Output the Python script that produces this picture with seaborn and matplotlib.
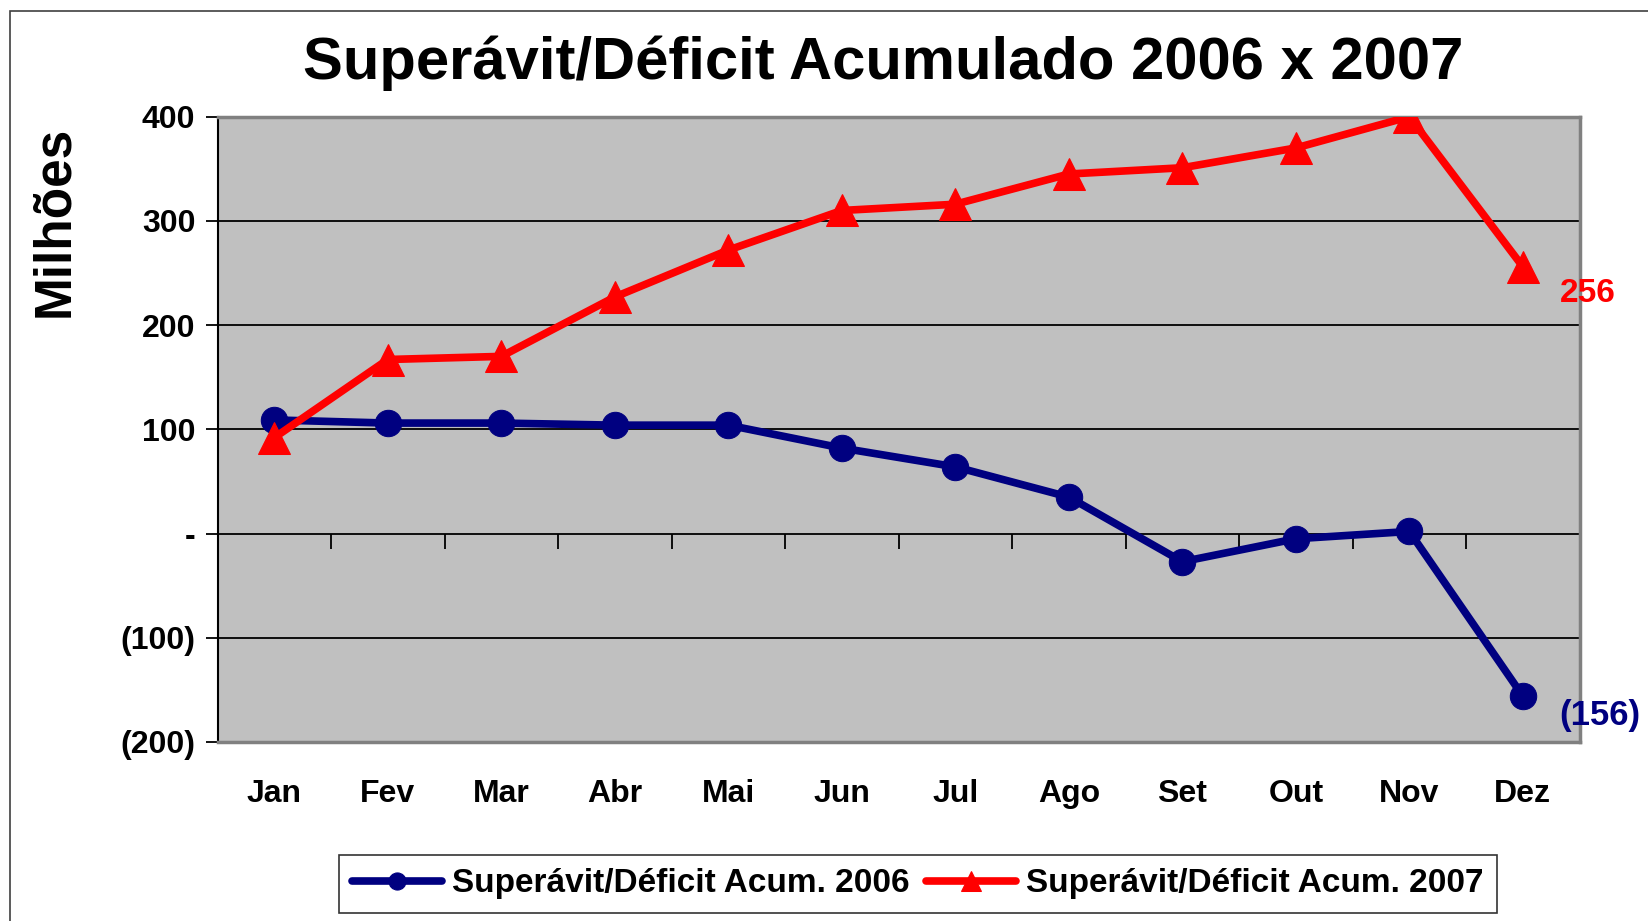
import numpy as np
import pandas as pd
import matplotlib
matplotlib.use("Agg")
import matplotlib.pyplot as plt
import seaborn as sns
from matplotlib.ticker import FuncFormatter, FixedLocator
from matplotlib.patches import Rectangle

# ============================================
# DATA
# ============================================

months = ["Jan", "Fev", "Mar", "Abr", "Mai", "Jun", "Jul", "Ago", "Set", "Out", "Nov", "Dez"]
acum_2006 = [109, 106, 106, 104, 104, 82, 64, 35, -27, -5, 2, -156]
acum_2007 = [92, 167, 170, 227, 272, 310, 316, 345, 351, 370, 400, 256]

label_2006 = "Superávit/Déficit Acum. 2006"
label_2007 = "Superávit/Déficit Acum. 2007"
title = "Superávit/Déficit Acumulado 2006 x 2007"
y_ticks = [-200, -100, 0, 100, 200, 300, 400]

df = pd.DataFrame({"mes": months, "a2006": acum_2006, "a2007": acum_2007})

# ============================================
# STYLE
# ============================================

sns.set_style("white")
plt.rcParams["font.family"] = ["Liberation Sans", "DejaVu Sans"]
plt.rcParams["font.weight"] = "bold"
plt.rcParams["text.color"] = "black"
plt.rcParams["axes.labelcolor"] = "black"
plt.rcParams["xtick.color"] = "black"
plt.rcParams["ytick.color"] = "black"

navy = "#000080"
red = "#FF0000"

fig = plt.figure(figsize=(16.48, 9.21), dpi=100)
ax = fig.add_axes([0.132, 0.1944, 0.8265, 0.6789])
ax.set_facecolor("#C0C0C0")

# outer chart border
fig.patches.append(Rectangle((10 / 1648, -0.05), 1.2, 1 - 11 / 921 + 0.05,
                             transform=fig.transFigure, fill=False,
                             edgecolor="#404040", linewidth=1.2))

# ============================================
# LINES
# ============================================

sns.lineplot(data=df, x="mes", y="a2006", ax=ax, sort=False, color=navy,
             linewidth=5.5, marker="o", markersize=19, markeredgecolor=navy,
             label=label_2006, zorder=3)
sns.lineplot(data=df, x="mes", y="a2007", ax=ax, sort=False, color=red,
             linewidth=5.5, marker="^", markersize=23, markeredgecolor=red,
             label=label_2007, zorder=4)

# end labels
ax.annotate(f"{acum_2007[-1]:.0f}", xy=(len(months) - 1, acum_2007[-1]),
            xytext=(27, -19), textcoords="offset points", color=red,
            fontsize=24, fontweight="bold", va="center", ha="left",
            annotation_clip=False)
v = acum_2006[-1]
ax.annotate(f"({abs(v):.0f})" if v < 0 else f"{v:.0f}",
            xy=(len(months) - 1, v), xytext=(26, -14),
            textcoords="offset points", color=navy,
            fontsize=25, fontweight="bold", va="center", ha="left",
            annotation_clip=False)

# ============================================
# AXES
# ============================================

ax.set_xlim(-0.5, len(months) - 0.5)
ax.set_ylim(-200, 400)
ax.yaxis.set_major_locator(FixedLocator(y_ticks))


def acct(val, pos):
    if val == 0:
        return "-"
    if val < 0:
        return f"({abs(val):.0f})"
    return f"{val:.0f}"


ax.yaxis.set_major_formatter(FuncFormatter(acct))
ax.tick_params(axis="y", direction="out", length=9, width=1.3, color="black",
               labelsize=23, pad=7, left=True)
ax.tick_params(axis="x", length=0, labelsize=23, pad=27)
for lab in ax.get_xticklabels() + ax.get_yticklabels():
    lab.set_fontweight("bold")

ax.set_xlabel("")
ax.set_ylabel("")
fig.text(0.0334, 0.76, "Milhões", rotation=90, ha="center", va="center",
         fontsize=37, fontweight="bold")

ax.grid(axis="y", color="black", linewidth=1.3)
ax.grid(axis="x", visible=False)

# category boundary ticks on the zero line
sec = ax.secondary_xaxis(200 / 600)
sec.set_xticks(np.arange(len(months) + 1) - 0.5)
sec.tick_params(direction="out", length=11, width=1.3, color="black",
                labelbottom=False, labeltop=False, bottom=True, top=False)
sec.spines["bottom"].set_visible(False)
sec.spines["top"].set_visible(False)

for side in ["top", "right", "bottom"]:
    ax.spines[side].set_color("#808080")
    ax.spines[side].set_linewidth(2.5)
ax.spines["left"].set_color("black")
ax.spines["left"].set_linewidth(1.5)

fig.text(0.536, 0.931, title, ha="center", va="center",
         fontsize=43, fontweight="bold")

# ============================================
# LEGEND
# ============================================

handles, labels = ax.get_legend_handles_labels()
if ax.legend_:
    ax.legend_.remove()
leg = fig.legend(handles, labels, loc="center", bbox_to_anchor=(0.557, 0.0402),
                 ncol=2, frameon=True, fancybox=False,
                 handlelength=2.7, handletextpad=0.3, columnspacing=0.5,
                 borderpad=0.4, markerscale=0.65,
                 prop={"weight": "bold", "size": 24})
leg.get_frame().set_edgecolor("black")
leg.get_frame().set_linewidth(1.2)

fig.savefig("out.png", dpi=100)
